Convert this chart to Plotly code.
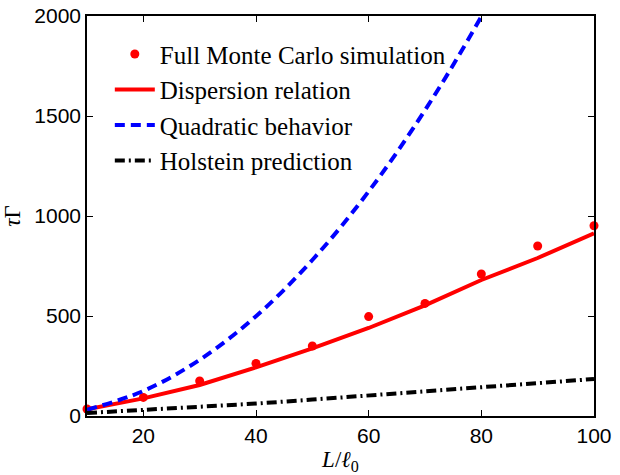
import plotly.graph_objects as go

L = [10, 20, 30, 40, 50, 60, 70, 80, 90, 100]
mc = [35, 93, 175, 263, 350, 497, 563, 710, 850, 951]
disp = [33, 88, 155, 243, 338, 440, 553, 680, 790, 913]
quad = [31, 125, 281, 499, 780, 1123, 1529, 1997, 2527, 3120]
hol = [15, 30, 45, 62, 82, 104, 124, 144, 164, 185]

xticks = [20, 40, 60, 80, 100]
yticks = [0, 500, 1000, 1500, 2000]

serif = "Liberation Serif"
sans = "Liberation Sans"

fig = go.Figure()
fig.add_trace(go.Scatter(x=L, y=mc, mode="markers", name="Full Monte Carlo simulation",
                         marker=dict(color="#ff0000", size=9), cliponaxis=False))
fig.add_trace(go.Scatter(x=L, y=disp, mode="lines", name="Dispersion relation",
                         line=dict(color="#ff0000", width=4)))
fig.add_trace(go.Scatter(x=L, y=quad, mode="lines", name="Quadratic behavior",
                         line=dict(color="#0000ff", width=4, dash="10px,6px", shape="spline")))
fig.add_trace(go.Scatter(x=L, y=hol, mode="lines", name="Holstein prediction",
                         line=dict(color="#000000", width=4, dash="10px,4px,2px,4px")))

axis_common = dict(showgrid=False, zeroline=False, showline=True, linecolor="black",
                   linewidth=1.5, mirror="ticks", ticks="inside", ticklen=6,
                   tickcolor="black", automargin=False,
                   tickfont=dict(family=sans, size=21, color="black"))

fig.update_xaxes(range=[10, 100], tickvals=xticks, ticktext=[str(v) for v in xticks],
                 title=dict(text="<i>L</i>/<i>ℓ</i><sub>0</sub>", font=dict(family=serif, size=23, color="black"),
                            standoff=6),
                 **axis_common)
fig.update_yaxes(range=[0, 2000], tickvals=yticks, ticktext=[str(v) for v in yticks],
                 title=dict(text="<i>τ</i>Γ", font=dict(family=serif, size=23, color="black"),
                            standoff=10),
                 **axis_common)

fig.update_layout(width=620, height=475, margin=dict(l=87, r=26, t=16, b=59),
                  plot_bgcolor="white", paper_bgcolor="white",
                  legend=dict(x=0.045, y=0.962, xanchor="left", yanchor="top",
                              bgcolor="rgba(0,0,0,0)", font=dict(family=serif, size=25, color="black"),
                              tracegroupgap=0, itemwidth=40))

fig.write_html("out.html")
